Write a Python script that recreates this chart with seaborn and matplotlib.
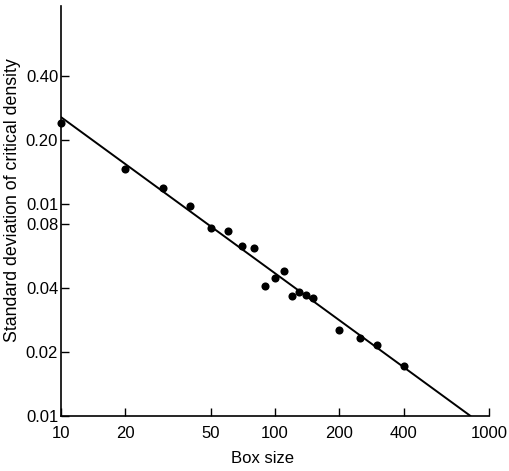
import numpy as np
import pandas as pd
import matplotlib as mpl
mpl.use("Agg")
import matplotlib.pyplot as plt
import seaborn as sns

# data
box_size = [10, 20, 30, 40, 50, 60, 70, 80, 90, 100, 110, 120, 130, 140, 150,
            200, 250, 300, 400]
std_dev = [0.240, 0.146, 0.118, 0.097, 0.077, 0.074, 0.063, 0.062, 0.041, 0.0447,
           0.0483, 0.0366, 0.0384, 0.0371, 0.0359, 0.0253, 0.0233, 0.0217, 0.0172]

# fitted line drawn in the original (end points)
fit_x = [10, 820]
fit_y = [0.255, 0.01]

x_ticks = [10, 20, 50, 100, 200, 400, 1000]
x_labels = ["10", "20", "50", "100", "200", "400", "1000"]
y_ticks = [0.40, 0.20, 0.10, 0.08, 0.04, 0.02, 0.01]
y_labels = ["0.40", "0.20", "0.01", "0.08", "0.04", "0.02", "0.01"]

df = pd.DataFrame({"box": box_size, "sd": std_dev})
fit = pd.DataFrame({"box": fit_x, "sd": fit_y})

sns.set_theme(style="ticks")
plt.rcParams["font.family"] = ["Liberation Sans", "DejaVu Sans"]

fig = plt.figure(figsize=(5.1, 4.71), dpi=100)
ax = fig.add_axes([61 / 510, 55 / 471, 428 / 510, 410 / 471])

sns.lineplot(data=fit, x="box", y="sd", color="black", linewidth=1.4, ax=ax)
sns.scatterplot(data=df, x="box", y="sd", color="black", s=34, edgecolor="black",
                linewidth=0, ax=ax, zorder=3, clip_on=False)

ax.set_xscale("log")
ax.set_yscale("log")
ax.set_xlim(10, 1000)
ax.set_ylim(0.01, 0.85)
ax.minorticks_off()
ax.set_xticks(x_ticks)
ax.set_xticklabels(x_labels)
ax.set_yticks(y_ticks)
ax.set_yticklabels(y_labels)
ax.tick_params(direction="in", length=6, width=1.0, labelsize=12, pad=7,
               color="black", labelcolor="black")
ax.tick_params(axis="y", pad=2)

sns.despine(ax=ax)
for s in ["left", "bottom"]:
    ax.spines[s].set_linewidth(1.2)
    ax.spines[s].set_color("black")

ax.set_xlabel("Box size", fontsize=12, color="black")
ax.set_ylabel("Standard deviation of critical density", fontsize=12.75,
              color="black")
ax.xaxis.set_label_coords(0.47, -0.085)
ax.yaxis.set_label_coords(-0.093, 0.527)

fig.savefig("out.png", dpi=100)
